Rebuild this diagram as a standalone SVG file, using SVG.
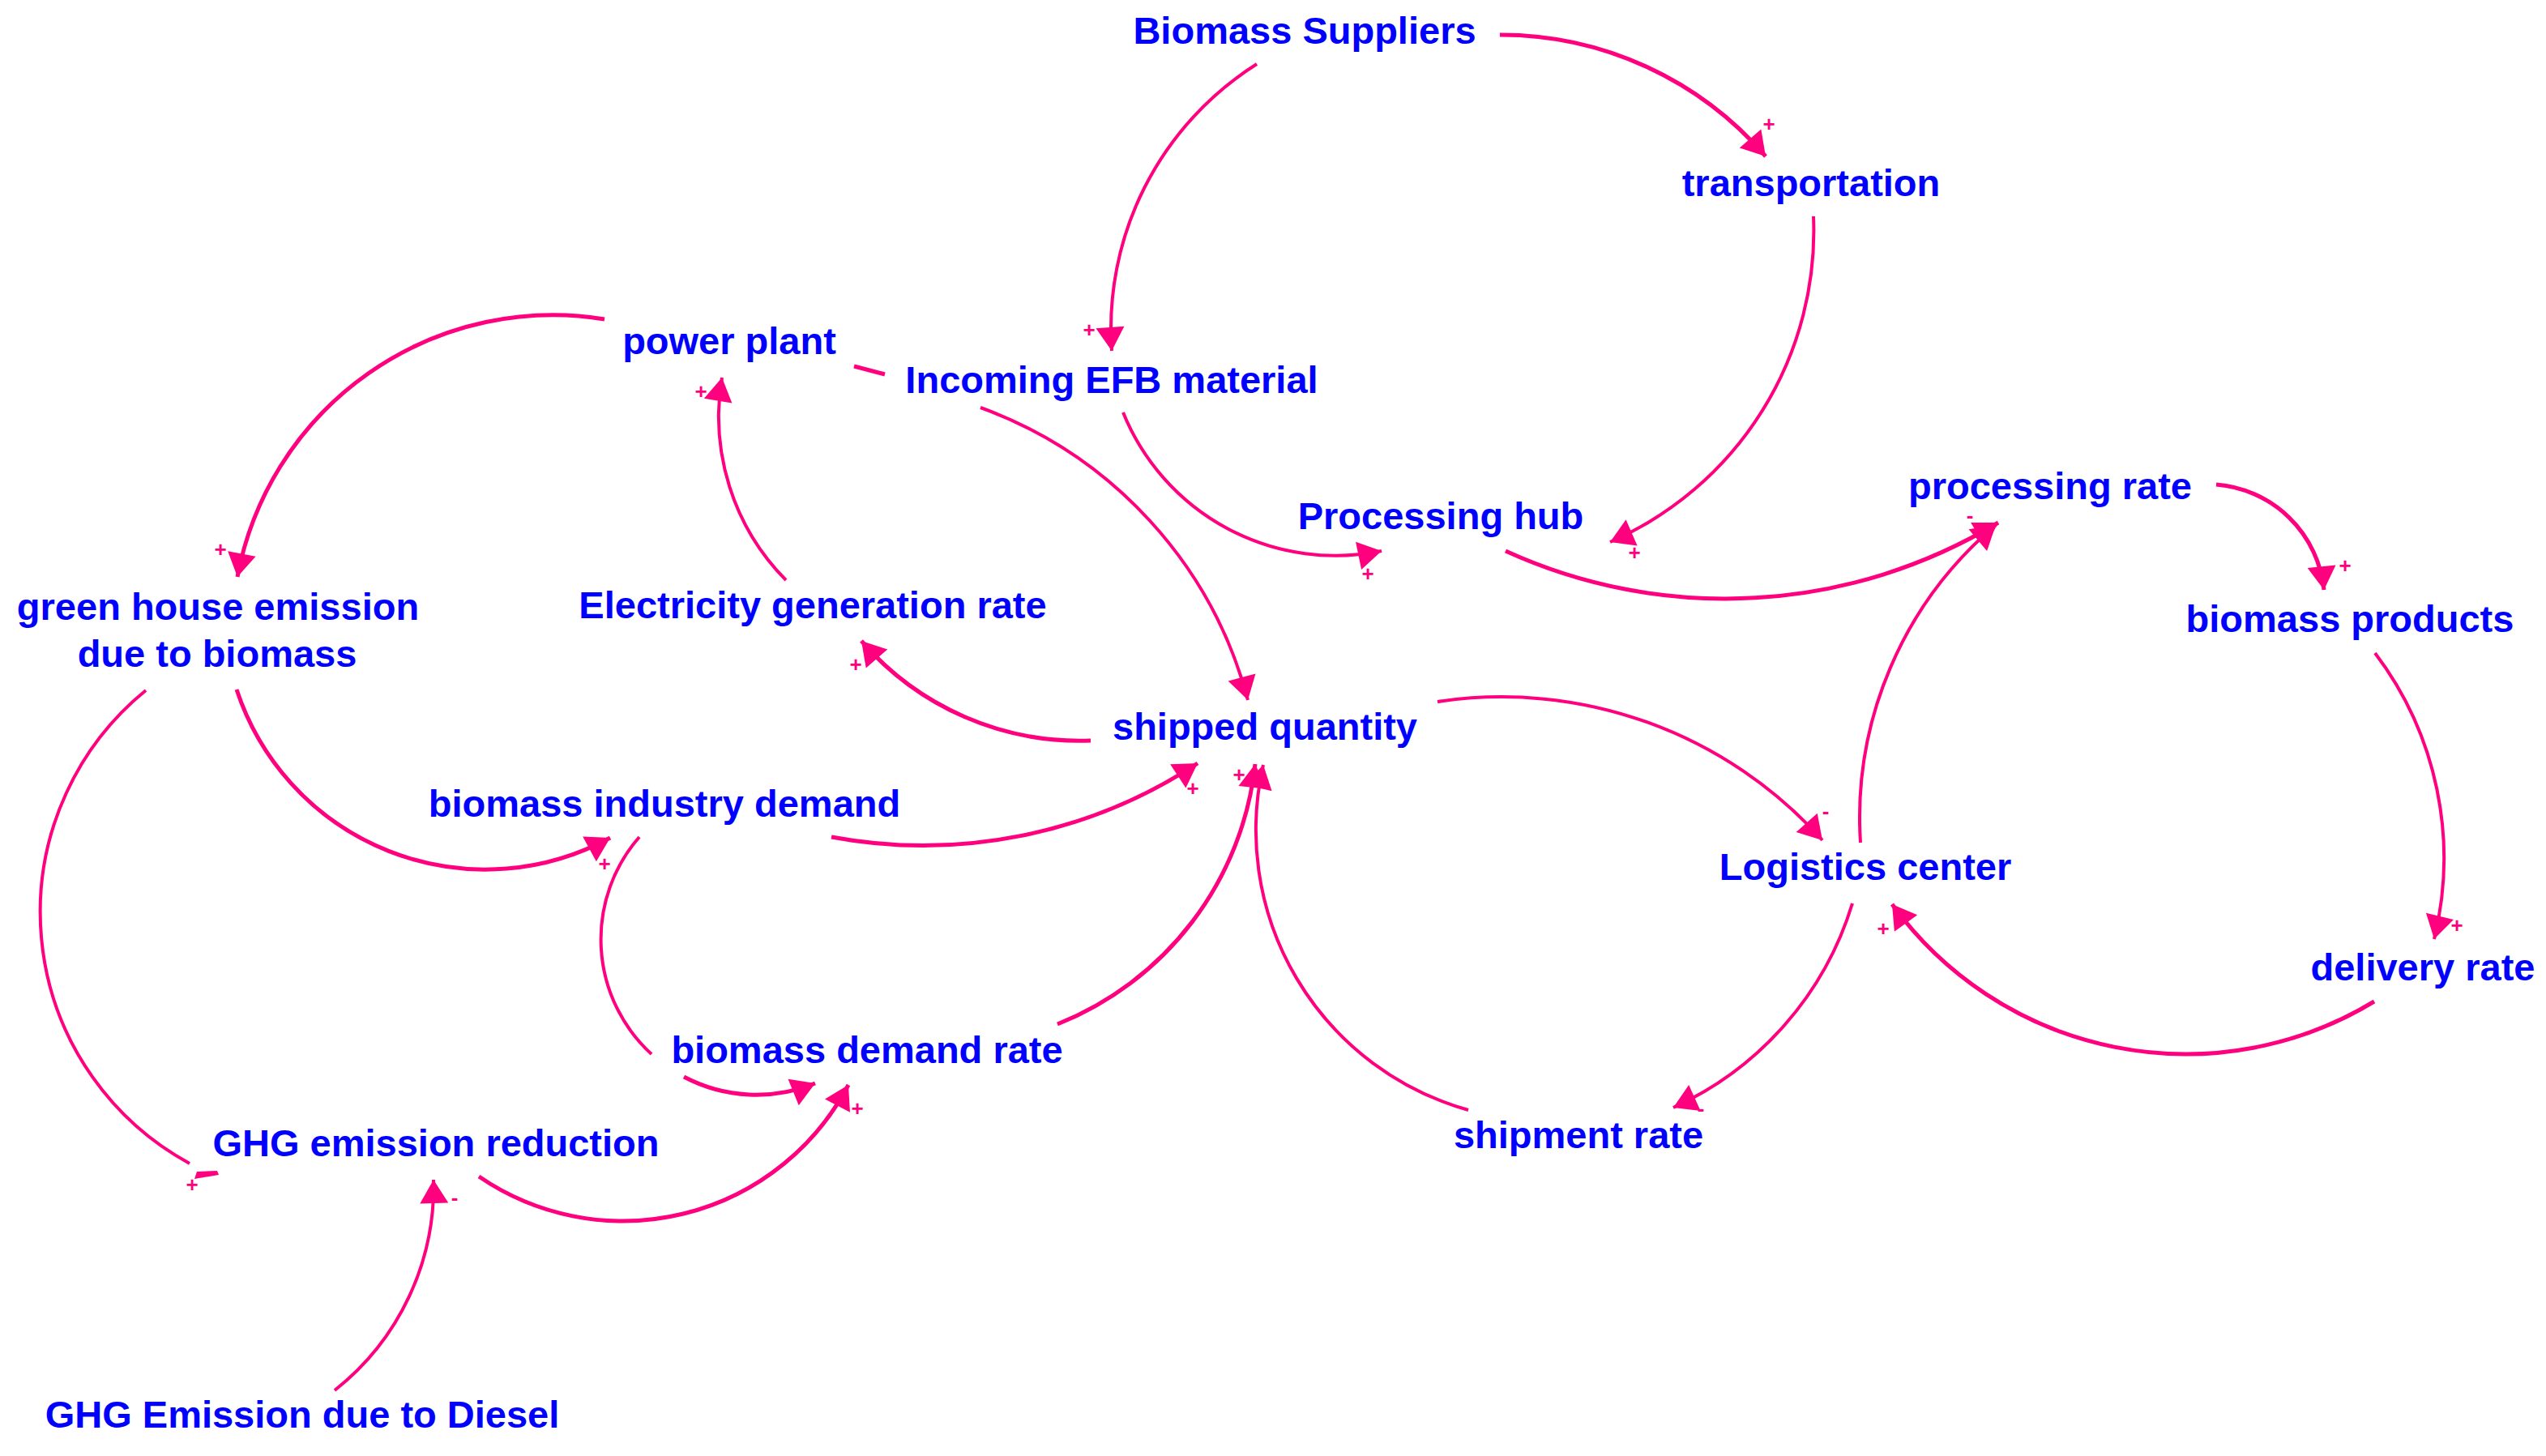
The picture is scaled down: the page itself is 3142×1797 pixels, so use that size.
<svg xmlns="http://www.w3.org/2000/svg" width="3142" height="1797" viewBox="0 0 3142 1797">
<style>
.lbl{font-family:"Liberation Sans",Arial,sans-serif;font-weight:bold;font-size:47px;fill:#0000FF;text-anchor:middle}
.c{fill:none;stroke:#FF007F;stroke-width:4}
.t{stroke-width:5}
.a{marker-end:url(#ah)}
.s{font-family:"Liberation Sans",Arial,sans-serif;font-weight:bold;font-size:26px;fill:#FF007F;text-anchor:middle}
</style>
<defs>
<marker id="ah" viewBox="-32 -19 34 38" markerWidth="34" markerHeight="38" refX="0" refY="0" orient="auto" markerUnits="userSpaceOnUse">
<path d="M0,0 L-29,-17.5 L-29,17.5 Z" fill="#FF007F"/>
</marker>
</defs>
<rect width="3142" height="1797" fill="#FFFFFF"/>
<g id="connectors">
<path class="c t a" d="M1851,43 A432,432 0 0 1 2179,193"/>
<path class="c a" d="M1551,79 A386,386 0 0 0 1372,433"/>
<path class="c a" d="M2238,267 A419,419 0 0 1 1987,669"/>
<path class="c a" d="M1386,509 A283,283 0 0 0 1705,680"/>
<path class="c t a" d="M1858,680 A652,652 0 0 0 2466,645"/>
<path class="c t a" d="M2735,598 A145,145 0 0 1 2868,728"/>
<path class="c a" d="M2931,806 A419,419 0 0 1 3004,1159"/>
<path class="c t a" d="M2930,1236 A448,448 0 0 1 2335,1116"/>
<path class="c a" d="M2296,1040 A473,473 0 0 1 2463,648"/>
<path class="c a" d="M2286,1115 A407,407 0 0 1 2065,1367"/>
<path class="c a" d="M1774,866 A531,531 0 0 1 2249,1037"/>
<path class="c a" d="M1812,1370 A359,359 0 0 1 1559,944"/>
<path class="c t a" d="M1305,1264 A391,391 0 0 0 1549,943"/>
<path class="c t a" d="M1026,1033 A616,616 0 0 0 1478,942"/>
<path class="c t a" d="M1346,914 A356,356 0 0 1 1063,791"/>
<path class="c a" d="M970,716 A287,287 0 0 1 891,466"/>
<path class="c t a" d="M746,394 A396,396 0 0 0 293,712"/>
<path class="c t" d="M1054,452 L1092,462"/>
<path class="c a" d="M1210,503 A528,528 0 0 1 1540,864"/>
<path class="c t a" d="M292,851 A323,323 0 0 0 753,1034"/>
<path class="c" d="M180,852 A353,353 0 0 0 234,1436"/>
<polygon points="240,1455 243,1446 268,1445 270,1450" fill="#FF007F"/>
<path class="c" d="M789,1033 A192,192 0 0 0 804,1301"/>
<path class="c t a" d="M844,1329 A192,192 0 0 0 1006,1337"/>
<path class="c t a" d="M591,1452 A314.5,314.5 0 0 0 1047,1339"/>
<path class="c a" d="M413,1716 A320,320 0 0 0 535,1456"/>
<g id="polarities">
<text class="s" x="2183" y="162">+</text>
<text class="s" x="1344" y="416">+</text>
<text class="s" x="2017" y="691">+</text>
<text class="s" x="1688" y="717">+</text>
<text class="s" x="2431" y="645">-</text>
<text class="s" x="2894" y="707">+</text>
<text class="s" x="3032" y="1151">+</text>
<text class="s" x="2324" y="1155">+</text>
<text class="s" x="2099" y="1377">-</text>
<text class="s" x="2253" y="1010">-</text>
<text class="s" x="1529" y="965">+</text>
<text class="s" x="1472" y="982">+</text>
<text class="s" x="1056" y="829">+</text>
<text class="s" x="865" y="492">+</text>
<text class="s" x="272" y="687">+</text>
<text class="s" x="746" y="1075">+</text>
<text class="s" x="237" y="1471">+</text>
<text class="s" x="1058" y="1377">+</text>
<text class="s" x="561" y="1487">-</text>
</g>
</g>
<g id="node-biomass-suppliers"><text class="lbl" x="1610" y="54">Biomass Suppliers</text></g>
<g id="node-transportation"><text class="lbl" x="2235" y="242">transportation</text></g>
<g id="node-power-plant"><text class="lbl" x="900" y="437">power plant</text></g>
<g id="node-incoming-efb"><text class="lbl" x="1372" y="485">Incoming EFB material</text></g>
<g id="node-processing-hub"><text class="lbl" x="1778" y="653">Processing hub</text></g>
<g id="node-processing-rate"><text class="lbl" x="2530" y="616">processing rate</text></g>
<g id="node-biomass-products"><text class="lbl" x="2900" y="780">biomass products</text></g>
<g id="node-green-house-emission"><text class="lbl" x="269" y="765">green house emission</text><text class="lbl" x="268" y="823">due to biomass</text></g>
<g id="node-electricity-generation-rate"><text class="lbl" x="1003" y="763">Electricity generation rate</text></g>
<g id="node-shipped-quantity"><text class="lbl" x="1561" y="913">shipped quantity</text></g>
<g id="node-biomass-industry-demand"><text class="lbl" x="820" y="1008">biomass industry demand</text></g>
<g id="node-biomass-demand-rate"><text class="lbl" x="1070" y="1312">biomass demand rate</text></g>
<g id="node-ghg-emission-reduction"><text class="lbl" x="538" y="1427">GHG emission reduction</text></g>
<g id="node-ghg-emission-diesel"><text class="lbl" x="373" y="1762">GHG Emission due to Diesel</text></g>
<g id="node-logistics-center"><text class="lbl" x="2302" y="1086">Logistics center</text></g>
<g id="node-delivery-rate"><text class="lbl" x="2990" y="1210">delivery rate</text></g>
<g id="node-shipment-rate"><text class="lbl" x="1948" y="1417">shipment rate</text></g>
</svg>
